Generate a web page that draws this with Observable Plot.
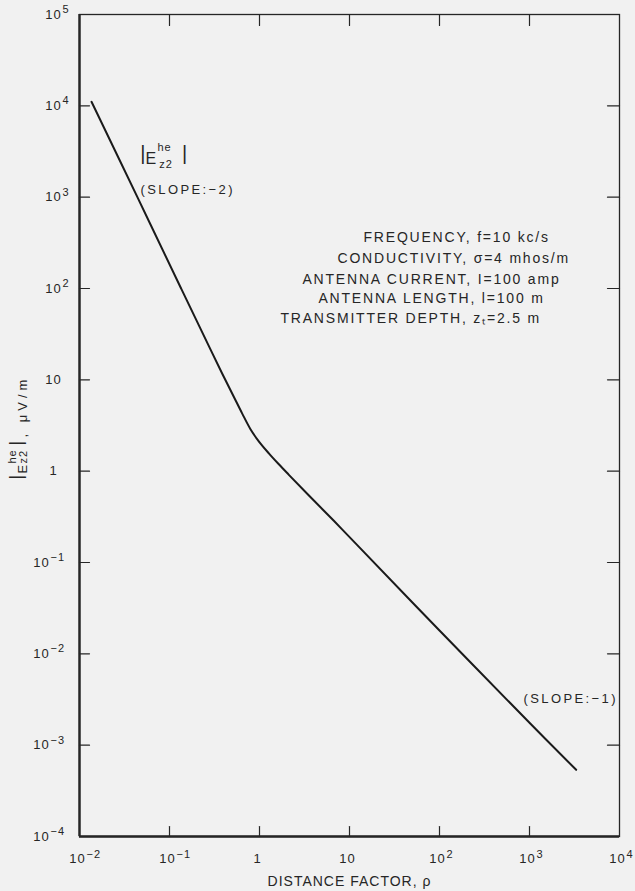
<!DOCTYPE html>
<html><head><meta charset="utf-8">
<script src="https://cdn.jsdelivr.net/npm/d3@7"></script>
<script src="https://cdn.jsdelivr.net/npm/@observablehq/plot@0.6"></script>
<style>
html,body{margin:0;padding:0;background:#f1f1f1;}
#chart svg text{letter-spacing:1px;}
#chart svg g[aria-description="wide"] text{letter-spacing:1.8px;}
#chart svg g[aria-description="slope"] text{letter-spacing:2.4px;}
#chart svg g[aria-description="unit"] text{letter-spacing:4px;}
</style></head><body><div id="chart"></div>
<script>
// curve |E_z2^he| vs distance factor rho
const rho = [0.0136, 0.044, 0.1346, 0.286, 0.401, 0.518, 0.643, 0.794, 0.982, 1.27, 1.64, 2.12, 3.39, 6.70, 12.2, 100, 1000, 3300];
const field = [11070, 1000, 100, 21.4, 10.8, 6.53, 4.27, 2.88, 2.12, 1.567, 1.189, 0.912, 0.565, 0.286, 0.155, 0.0180, 0.00176, 0.000537];

const xTicks = [1e-2, 1e-1, 1, 10, 1e2, 1e3, 1e4];
const xBase = ["10", "10", "1", "10", "10", "10", "10"];
const xExp = ["−2", "−1", "", "", "2", "3", "4"];
const yTicks = [1e5, 1e4, 1e3, 1e2, 10, 1, 1e-1, 1e-2, 1e-3, 1e-4];
const yBase = ["10", "10", "10", "10", "10", "1", "10", "10", "10", "10"];
const yExp = ["5", "4", "3", "2", "", "", "−1", "−2", "−3", "−4"];

const params = [
  "FREQUENCY, f=10 kc/s",
  "CONDUCTIVITY, σ=4 mhos/m",
  "ANTENNA CURRENT, I=100 amp",
  "ANTENNA LENGTH, l=100 m",
  "TRANSMITTER DEPTH, zₜ=2.5 m"
];
const slopeLabels = ["(SLOPE:−2)", "(SLOPE:−1)"];
const xTitle = "DISTANCE FACTOR, ρ";
const yTitleParts = ["|", "E", "he", "z2", "|", ", μV/m"];

const curve = rho.map((r, i) => ({rho: r, e: field[i]}));
const xLab = xTicks.map((v, i) => ({v, base: xBase[i], exp: xExp[i]}));
const yLab = yTicks.map((v, i) => ({v, base: yBase[i], exp: yExp[i]}));
const neg = d => d.exp.startsWith("−");

const ink = "#262626";
const tickShape = {draw(ctx, l) { ctx.moveTo(0, 0); ctx.lineTo(0, -l); }};
const tickOpts = {length: 10, anchor: "start", shape: tickShape, stroke: ink, strokeWidth: 1.2};
const one = s => [s];
const yt = {frameAnchor: "left", text: d => d, rotate: -90, textAnchor: "start", lineAnchor: "bottom"};
const ann = {text: d => d, textAnchor: "start", lineAnchor: "bottom"};

const chart = Plot.plot({
  width: 635,
  height: 891,
  marginLeft: 79,
  marginRight: 16,
  marginTop: 14,
  marginBottom: 55,
  style: {fontFamily: "'Liberation Sans', sans-serif", fontSize: "13px", background: "#f1f1f1", color: ink},
  x: {type: "log", domain: [1e-2, 1e4], axis: null},
  y: {type: "log", domain: [1e-4, 1e5], axis: null},
  marks: [
    Plot.frame({stroke: ink, strokeWidth: 1.3}),
    Plot.ruleX([1e-2], {stroke: ink, strokeWidth: 2.4}),
    Plot.ruleY([1e-4], {stroke: ink, strokeWidth: 2.4}),
    // inward ticks on all four sides
    Plot.vector(xTicks.slice(1, -1), {x: d => d, frameAnchor: "bottom", rotate: 0, ...tickOpts}),
    Plot.vector(xTicks.slice(1, -1), {x: d => d, frameAnchor: "top", rotate: 180, ...tickOpts, length: 11}),
    Plot.vector(yTicks.slice(1, -1), {y: d => d, frameAnchor: "left", rotate: 90, ...tickOpts}),
    Plot.vector(yTicks.slice(1, -1), {y: d => d, frameAnchor: "right", rotate: -90, ...tickOpts, length: 12}),
    // x tick labels
    Plot.text(xLab, {x: "v", frameAnchor: "bottom", text: "base", textAnchor: "middle", lineAnchor: "bottom", dx: -2, dy: 26, fontSize: 13}),
    Plot.text(xLab, {x: "v", frameAnchor: "bottom", text: "exp", textAnchor: "start", lineAnchor: "bottom", dx: 7, dy: 21, fontSize: 11}),
    // y tick labels
    Plot.text(yLab, {filter: d => !neg(d), y: "v", frameAnchor: "left", text: "base", textAnchor: "middle", dx: -26, fontSize: 13}),
    Plot.text(yLab, {filter: d => !neg(d), y: "v", frameAnchor: "left", text: "exp", textAnchor: "start", dx: -17, dy: -5, fontSize: 11}),
    Plot.text(yLab, {filter: neg, y: "v", frameAnchor: "left", text: "base", textAnchor: "middle", dx: -38, fontSize: 13}),
    Plot.text(yLab, {filter: neg, y: "v", frameAnchor: "left", text: "exp", textAnchor: "start", dx: -29, dy: -5, fontSize: 11}),
    // axis titles
    Plot.text(one(xTitle), {frameAnchor: "bottom", text: d => d, lineAnchor: "bottom", dy: 49, fontSize: 14}),
    Plot.text(one(yTitleParts[0]), {...yt, dx: -58, dy: 54, fontSize: 18}),
    Plot.text(one(yTitleParts[1]), {...yt, dx: -53, dy: 48, fontSize: 13}),
    Plot.text(one(yTitleParts[2]), {...yt, dx: -63.5, dy: 38, fontSize: 11}),
    Plot.text(one(yTitleParts[3]), {...yt, dx: -53, dy: 38, fontSize: 11}),
    Plot.text(one(yTitleParts[4]), {...yt, dx: -58, dy: 20, fontSize: 18}),
    Plot.text(one(yTitleParts[5]), {...yt, dx: -53, dy: 12, fontSize: 13, ariaDescription: "unit"}),
    // curve
    Plot.line(curve, {x: "rho", y: "e", stroke: "#1a1a1a", strokeWidth: 2, curve: "catmull-rom"}),
    // curve label |E_z2^he|
    Plot.text(one("|"), {...ann, x: 0.0472, y: 2523, fontSize: 20}),
    Plot.text(one("E"), {...ann, x: 0.0540, y: 2322, fontSize: 16}),
    Plot.text(one("he"), {...ann, x: 0.0735, y: 3206, fontSize: 11}),
    Plot.text(one("z2"), {...ann, x: 0.0770, y: 2061, fontSize: 11}),
    Plot.text(one("|"), {...ann, x: 0.1377, y: 2523, fontSize: 20}),
    Plot.text(one(slopeLabels[0]), {...ann, x: 0.0476, y: 1071, fontSize: 13, ariaDescription: "slope"}),
    Plot.text(one(slopeLabels[1]), {...ann, x: 857, y: 0.00286, fontSize: 13, ariaDescription: "slope"}),
    // parameter block
    Plot.text(one(params[0]), {...ann, x: 14.3, y: 321, fontSize: 14, ariaDescription: "wide"}),
    Plot.text(one(params[1]), {...ann, x: 7.36, y: 188, fontSize: 14, ariaDescription: "wide"}),
    Plot.text(one(params[2]), {...ann, x: 3.0, y: 111, fontSize: 14, ariaDescription: "wide"}),
    Plot.text(one(params[3]), {...ann, x: 4.52, y: 69.1, fontSize: 14, ariaDescription: "wide"}),
    Plot.text(one(params[4]), {...ann, x: 1.71, y: 41.7, fontSize: 14, ariaDescription: "wide"})
  ]
});
document.getElementById("chart").append(chart);
</script></body></html>
